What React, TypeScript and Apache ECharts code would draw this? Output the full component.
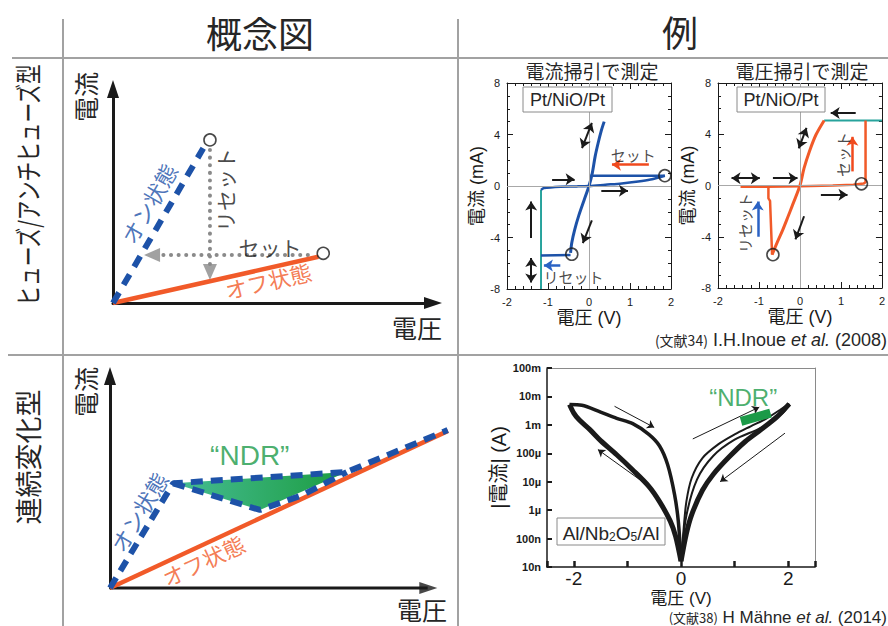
import React, { useEffect, useRef } from 'react';
import * as echarts from 'echarts';

const JP = '"Noto Sans CJK JP", sans-serif';
const LAT = '"Liberation Sans", "Noto Sans CJK JP", sans-serif';

// ---------- concept: fuse / antifuse (arbitrary units) ----------
const fuseOn = [[0, 0], [2.82, 7.23]];
const fuseOff = [[0, 0], [6.42, 2.16]];
const fuseEnds = [[3.03, 7.62], [6.57, 2.32]];
const fuseReset = [[3.03, 7.15], [3.03, 1.78]];
const fuseSet = [[6.09, 2.24], [1.47, 2.24]];
const fuseHeads = [[3.03, 1.45, 180], [1.22, 2.24, 90]];

// ---------- concept: continuous change ----------
const contAxisX = [[0, 0], [10.0, 0]];
const contAxisHead = [[10.02, 0, -90]];
const contOff = [[0, 0], [10.64, 7.41]];
const contOnUpper = [[0, 0], [1.99, 4.94], [7.45, 5.47], [10.63, 7.45]];
const contOnLower = [[1.99, 4.94], [4.72, 3.68], [6.07, 4.39], [7.45, 5.47]];
const ndrRegion = [[1.99, 4.94], [7.45, 5.47], [4.72, 3.68]];

// ---------- current sweep (V, mA) ----------
const iSweepOn = [[-0.45, -5.2], [-0.42, -4.4], [-0.35, -3.4], [-0.25, -2.3], [-0.12, -1.1], [0, 0], [0.08, 1.0], [0.15, 2.3], [0.22, 3.3], [0.3, 4.3], [0.37, 5.0]];
const iSweepOff = [[-1.17, -0.3], [-1.1, -0.16], [-0.7, -0.05], [-0.3, -0.03], [0, 0], [0.4, 0.1], [0.8, 0.2], [1.2, 0.35], [1.5, 0.5], [1.75, 0.7], [1.85, 0.8]];
const iSweepSet = [[0.03, 0.8], [1.85, 0.8]];
const iSweepReset = [[-1.17, -5.4], [-0.45, -5.35]];
const iSweepCompliance = [[-1.17, -0.3], [-1.17, -8]];
const iSweepMarks = [[1.85, 0.8], [-0.42, -5.3]];
const iSweepArrows = [[[-0.9, 0.52], [-0.35, 0.52]], [[0.3, -0.36], [0.95, -0.36]], [[0.07, -2.67], [-0.15, -4.43]], [[-1.41, -4.04], [-1.41, -1.2]]];
const iSweepDouble = [[[-0.17, 2.95], [0.07, 4.9]], [[-1.41, -5.6], [-1.41, -7.5]]];
const iSweepSetArrow = [[[1.46, 1.66], [0.56, 1.66]]];
const iSweepResetArrow = [[[-0.7, -6.17], [-1.1, -6.17]]];

// ---------- voltage sweep (V, mA) ----------
const vSweepOn = [[-0.68, -5.4], [-0.55, -4.4], [-0.42, -3.46], [-0.3, -2.5], [-0.18, -1.51], [0, 0], [0.1, 1.35], [0.23, 2.66], [0.39, 3.96], [0.59, 5.08]];
const vSweepOff = [[-1.45, -0.1], [-0.8, -0.1], [0, -0.05], [0.8, 0], [1.3, 0.05], [1.55, 0.15], [1.6, 0.25], [1.6, 5.07]];
const vSweepCompliance = [[0.59, 5.07], [2, 5.07]];
const vSweepReset = [[-0.77, -0.1], [-0.77, -1.0], [-0.73, -1.2], [-0.68, -5.4]];
const vSweepMarks = [[-0.66, -5.4], [1.5, 0.13]];
const vSweepArrows = [[[-0.66, 0.57], [-0.06, 0.57]], [[0.51, -0.73], [1.16, -0.73]], [[0.1, -2.4], [-0.11, -4.2]], [[1.36, 5.65], [0.75, 5.65]]];
const vSweepDouble = [[[-1.67, 0.57], [-0.98, 0.57]], [[-0.03, 2.9], [0.16, 4.5]], [[1.8, 5.65], [2.3, 5.65]]];
const vSweepSetArrow = [[[1.28, 1.1], [1.28, 3.8]]];
const vSweepResetArrow = [[[-1.03, -4.0], [-1.03, -1.25]]];

// ---------- Al/Nb2O5/Al (V, |I| in A) ----------
const nbLeftUpper = [[-2.08, 5.2e-3], [-1.85, 4.9e-3], [-1.5, 2.8e-3], [-1.2, 1.7e-3], [-0.9, 1.1e-3], [-0.6, 4.6e-4], [-0.4, 1.8e-4], [-0.25, 4e-5], [-0.12, 3.5e-6], [-0.05, 4e-7], [0, 1.6e-8]];
const nbLeftLower = [[-2.08, 5.2e-3], [-2.0, 2.6e-3], [-1.9, 1.5e-3], [-1.7, 6.8e-4], [-1.5, 2.8e-4], [-1.2, 8.9e-5], [-0.9, 2.6e-5], [-0.6, 6.9e-6], [-0.4, 2.0e-6], [-0.2, 4.1e-7], [-0.1, 1.2e-7], [0, 1.6e-8]];
const nbRightUpper = [[0, 1.6e-8], [0.05, 2.3e-7], [0.1, 2.0e-6], [0.2, 1.35e-5], [0.4, 6.8e-5], [0.7, 2.1e-4], [1.0, 4.6e-4], [1.3, 8.9e-4], [1.6, 1.7e-3], [1.85, 3.4e-3], [2.02, 5.5e-3]];
const nbRightMid = [[0, 1.6e-8], [0.1, 6.3e-7], [0.3, 1.2e-5], [0.6, 8e-5], [1.0, 3e-4], [1.5, 8e-4], [1.9, 2.6e-3], [2.02, 5.5e-3]];
const nbRightLower = [[2.02, 5.5e-3], [1.8, 2.0e-3], [1.5, 7e-4], [1.2, 2.6e-4], [0.9, 7.5e-5], [0.6, 1.8e-5], [0.4, 5e-6], [0.2, 7e-7], [0.1, 1.5e-7], [0, 1.6e-8]];
const nbNdr = [[1.12, 1.33e-3], [1.67, 2.6e-3]];
const nbArrows = [[[-1.24, 4.5e-3], [-0.5, 8.1e-4]], [[-0.62, 7.4e-6], [-1.55, 1.35e-4]], [[0.22, 3.2e-4], [1.46, 4.2e-3]], [[1.94, 5.1e-4], [0.73, 1.0e-5]]];
const nbTickLabels = ['10n', '100n', '1µ', '10µ', '100µ', '1m', '10m', '100m'];
const nbXLabels = [-2, 0, 2];

const BLUE = '#1d52a8';
const ORANGE = '#f15a29';
const TEAL = '#27a39c';
const GREEN = '#1c9a48';
const INK = '#1a1a1a';
const RULE = '#a2a2a2';

function lineS(xi: number, yi: number, data: any, color: string, width: number, extra: any = {}) {
  return {
    type: 'line', xAxisIndex: xi, yAxisIndex: yi, data, symbol: 'none', showSymbol: false,
    clip: false, silent: true, z: extra.z ?? 3, smooth: extra.smooth ?? false,
    lineStyle: { color, width, ...(extra.lineStyle || {}) },
  };
}

function arrowS(xi: number, yi: number, segs: any[], color: string, width: number, both: boolean, size = 9) {
  return {
    type: 'line', xAxisIndex: xi, yAxisIndex: yi, data: [], clip: false, silent: true, z: 4,
    markLine: {
      silent: true, animation: false, symbol: both ? ['arrow', 'arrow'] : ['none', 'arrow'], symbolSize: size,
      lineStyle: { color, width, type: 'solid' }, label: { show: false }, emphasis: { disabled: true },
      data: segs.map((s) => [{ coord: s[0] }, { coord: s[1] }]),
    },
  };
}

function circleS(xi: number, yi: number, data: any) {
  return {
    type: 'scatter', xAxisIndex: xi, yAxisIndex: yi, data, symbol: 'circle', symbolSize: 12, clip: false, silent: true, z: 5,
    itemStyle: { color: 'rgba(255,255,255,0)', borderColor: INK, borderWidth: 1.6 },
  };
}

function headS(xi: number, yi: number, data: number[][], color: string, size: number[]) {
  return {
    type: 'scatter', xAxisIndex: xi, yAxisIndex: yi, symbol: 'triangle', symbolSize: size, silent: true, clip: false, z: 4,
    itemStyle: { color },
    data: data.map((h) => ({ value: [h[0], h[1]], symbolRotate: h[2] })),
  };
}

function textS(xi: number, yi: number, items: any[]) {
  return {
    type: 'scatter', xAxisIndex: xi, yAxisIndex: yi, symbolSize: 1, clip: false, silent: true, z: 6,
    itemStyle: { color: 'rgba(0,0,0,0)' },
    data: items.map((t) => ({
      value: t.at,
      label: {
        show: true, position: 'inside', formatter: t.text, rotate: t.rotate || 0, color: t.color || INK,
        fontSize: t.size, fontFamily: t.font || JP,
      },
    })),
  };
}

function conceptAxis(gi: number, max: number, showLine = true) {
  return {
    type: 'value', gridIndex: gi, min: 0, max,
    axisLine: { show: showLine, onZero: false, symbol: ['none', 'triangle'], symbolSize: [12, 18], lineStyle: { color: INK, width: 3 } },
    axisTick: { show: false }, axisLabel: { show: false }, splitLine: { show: false },
  };
}

function frameAxis(gi: number, position: string, min: number, max: number, interval: number, minor: number, labels: boolean, name?: string, nameGap?: number, nameSize = 17) {
  return {
    type: 'value', gridIndex: gi, position, min, max, interval,
    axisLine: { show: true, onZero: false, lineStyle: { color: INK, width: 1 } },
    axisTick: { show: true, inside: true, length: 6, lineStyle: { color: INK, width: 1 } },
    minorTick: { show: true, splitNumber: minor, length: 3, lineStyle: { color: INK, width: 1 } },
    axisLabel: { show: labels, fontSize: 11, color: INK, margin: 7, fontFamily: LAT },
    splitLine: { show: false },
    name, nameLocation: 'middle', nameGap, nameTextStyle: { fontSize: nameSize, color: INK, fontFamily: LAT },
  };
}

function gText(text: string, x: number, y: number, fontSize: number, rotation = 0, style: any = {}, el: any = {}) {
  return {
    type: 'text', x, y, rotation, silent: true, z: 10, ...el,
    style: { text, fontSize, fontFamily: JP, fill: '#262626', align: 'center', verticalAlign: 'middle', ...style },
  };
}

function gLine(x1: number, y1: number, x2: number, y2: number) {
  return { type: 'line', silent: true, shape: { x1, y1, x2, y2 }, style: { stroke: RULE, lineWidth: 2 } };
}

function gBox(x: number, y: number, w: number, h: number) {
  return { type: 'rect', silent: true, z: 9, shape: { x, y, width: w, height: h }, style: { fill: '#fff', stroke: '#8a8a8a', lineWidth: 1 } };
}

function buildOption() {
  const zeroLines = (xi: number, yi: number) => ({
    type: 'line', xAxisIndex: xi, yAxisIndex: yi, data: [], silent: true, z: 1,
    markLine: { silent: true, animation: false, symbol: ['none', 'none'], label: { show: false }, lineStyle: { color: '#a8a8a8', width: 1, type: 'solid' }, data: [{ xAxis: 0 }, { yAxis: 0 }] },
  });

  return {
    animation: false,
    backgroundColor: '#fff',
    grid: [
      { left: 113, top: 89, width: 320, height: 214 },
      { left: 110, top: 376, width: 338, height: 212 },
      { left: 507, top: 83, width: 164, height: 206 },
      { left: 718, top: 83, width: 165, height: 205 },
      { left: 547, top: 368, width: 268, height: 199 },
    ],
    xAxis: [
      conceptAxis(0, 10),
      conceptAxis(1, 10.64, false),
      frameAxis(2, 'bottom', -2, 2, 1, 5, true, '電圧 (V)', 20, 18),
      frameAxis(2, 'top', -2, 2, 1, 5, false),
      frameAxis(3, 'bottom', -2, 2, 1, 5, true, '電圧 (V)', 20, 18),
      frameAxis(3, 'top', -2, 2, 1, 5, false),
      {
        type: 'value', gridIndex: 4, position: 'bottom', min: -2.5, max: 2.5,
        axisLine: { show: true, onZero: false, lineStyle: { color: INK, width: 1.5 } },
        axisTick: { show: true, inside: true, length: 6, lineStyle: { color: INK, width: 2.5 } },
        axisLabel: { fontSize: 19, color: INK, margin: 2, fontFamily: LAT, formatter: (v: number) => (nbXLabels.indexOf(v) >= 0 ? String(v) : '') },
        splitLine: { show: false },
        name: '電圧 (V)', nameLocation: 'middle', nameGap: 23, nameMoveOverlap: false,
        nameTextStyle: { fontSize: 17, color: INK, fontFamily: LAT },
      },
      {
        type: 'value', gridIndex: 4, position: 'top', min: -2.5, max: 2.5,
        axisLine: { show: true, onZero: false, lineStyle: { color: '#8a8a8a', width: 1 } },
        axisTick: { show: false }, axisLabel: { show: false }, splitLine: { show: false },
      },
    ],
    yAxis: [
      conceptAxis(0, 10),
      conceptAxis(1, 10),
      frameAxis(2, 'left', -8, 8, 4, 4, true, '電流 (mA)', 15, 18),
      frameAxis(2, 'right', -8, 8, 4, 4, false),
      frameAxis(3, 'left', -8, 8, 4, 4, true, '電流 (mA)', 16, 18),
      frameAxis(3, 'right', -8, 8, 4, 4, false),
      {
        type: 'log', logBase: 10, gridIndex: 4, position: 'left', min: 1e-8, max: 0.1,
        axisLine: { show: true, onZero: false, lineStyle: { color: INK, width: 1.5 } },
        axisTick: { show: true, inside: true, length: 5, lineStyle: { color: INK, width: 2 } },
        axisLabel: {
          fontSize: 11, fontWeight: 'bold', color: INK, margin: 6, fontFamily: LAT,
          formatter: (v: number) => nbTickLabels[Math.round(Math.log10(v)) + 8] ?? '',
        },
        splitLine: { show: false },
        name: '|電流| (A)', nameLocation: 'middle', nameGap: 34, nameTextStyle: { fontSize: 20, color: INK, fontFamily: LAT },
      },
      {
        type: 'log', logBase: 10, gridIndex: 4, position: 'right', min: 1e-8, max: 0.1,
        axisLine: { show: true, onZero: false, lineStyle: { color: '#8a8a8a', width: 1 } },
        axisTick: { show: false }, axisLabel: { show: false }, splitLine: { show: false },
      },
    ],
    series: [
      // ---- concept fuse ----
      lineS(0, 0, fuseReset, '#8a8a8a', 4, { lineStyle: { type: [0.1, 7.5], cap: 'round' } }),
      lineS(0, 0, fuseSet, '#8a8a8a', 4, { lineStyle: { type: [0.1, 7.5], cap: 'round' } }),
      headS(0, 0, fuseHeads, '#8a8a8a', [14, 16]),
      lineS(0, 0, fuseOff, ORANGE, 4.5),
      lineS(0, 0, fuseOn, BLUE, 6, { lineStyle: { type: [12, 9] } }),
      circleS(0, 0, fuseEnds),
      textS(0, 0, [
        { text: 'オン状態', at: [1.1, 4.66], rotate: 60, color: BLUE, size: 22 },
        { text: 'リセット', at: [3.5, 5.28], rotate: 90, size: 21 },
        { text: 'セット', at: [4.91, 2.63], size: 21 },
        { text: 'オフ状態', at: [4.85, 1.07], rotate: 13, color: ORANGE, size: 22 },
      ]),
      // ---- concept continuous ----
      lineS(1, 1, contAxisX, INK, 3, { z: 2 }),
      headS(1, 1, contAxisHead, INK, [12, 18]),
      {
        type: 'custom', xAxisIndex: 1, yAxisIndex: 1, data: [[0, 0]], silent: true, clip: false, z: 2,
        renderItem: (_p: any, api: any) => ({
          type: 'polygon',
          shape: { points: ndrRegion.map((p) => api.coord(p)) },
          style: {
            fill: new echarts.graphic.LinearGradient(0, 0, 1, 0, [
              { offset: 0, color: '#46bd95' },
              { offset: 1, color: '#1c9c40' },
            ]),
          },
        }),
      },
      lineS(1, 1, contOff, ORANGE, 4.5),
      lineS(1, 1, contOnUpper, BLUE, 6, { lineStyle: { type: [12, 8] }, z: 4 }),
      lineS(1, 1, contOnLower, BLUE, 6, { lineStyle: { type: [12, 8] }, z: 4 }),
      textS(1, 1, [
        { text: '“NDR”', at: [4.4, 6.27], color: GREEN, size: 28, font: LAT },
        { text: 'オン状態', at: [0.89, 3.6], rotate: 59, color: BLUE, size: 22 },
        { text: 'オフ状態', at: [2.93, 1.32], rotate: 25, color: ORANGE, size: 22 },
      ]),
      // ---- current sweep ----
      zeroLines(2, 2),
      lineS(2, 2, iSweepCompliance, TEAL, 2),
      lineS(2, 2, iSweepOff, BLUE, 2.5, { smooth: 0.3 }),
      lineS(2, 2, iSweepSet, BLUE, 2.5),
      lineS(2, 2, iSweepReset, BLUE, 2.5),
      lineS(2, 2, iSweepOn, BLUE, 3, { smooth: 0.3 }),
      arrowS(2, 2, iSweepArrows, INK, 2, false),
      arrowS(2, 2, iSweepDouble, INK, 2, true),
      arrowS(2, 2, iSweepSetArrow, '#f04a1e', 2.5, false),
      arrowS(2, 2, iSweepResetArrow, '#2a62c4', 2.5, false),
      circleS(2, 2, iSweepMarks),
      textS(2, 2, [
        { text: 'セット', at: [1.08, 2.41], size: 15 },
        { text: 'リセット', at: [-0.38, -7.04], size: 15 },
      ]),
      // ---- voltage sweep ----
      zeroLines(4, 4),
      lineS(4, 4, vSweepCompliance, TEAL, 2),
      lineS(4, 4, vSweepOff, ORANGE, 2.5),
      lineS(4, 4, vSweepReset, ORANGE, 2.5),
      lineS(4, 4, vSweepOn, ORANGE, 3, { smooth: 0.3 }),
      arrowS(4, 4, vSweepArrows, INK, 2, false),
      arrowS(4, 4, vSweepDouble, INK, 2, true),
      arrowS(4, 4, vSweepSetArrow, '#f04a1e', 2.5, false),
      arrowS(4, 4, vSweepResetArrow, '#2a62c4', 2.5, false),
      circleS(4, 4, vSweepMarks),
      textS(4, 4, [
        { text: 'セット', at: [1.04, 2.41], rotate: 90, size: 15 },
        { text: 'リセット', at: [-1.35, -2.93], rotate: 90, size: 15 },
      ]),
      // ---- Nb2O5 log plot ----
      lineS(6, 6, nbLeftUpper, INK, 3.5, { smooth: 0.3 }),
      lineS(6, 6, nbLeftLower, INK, 5, { smooth: 0.3 }),
      lineS(6, 6, nbRightUpper, INK, 2, { smooth: 0.3 }),
      lineS(6, 6, nbRightMid, INK, 2, { smooth: 0.3 }),
      lineS(6, 6, nbRightLower, INK, 5, { smooth: 0.3 }),
      lineS(6, 6, nbNdr, GREEN, 9, { z: 5 }),
      arrowS(6, 6, nbArrows, INK, 1, false, 7),
      textS(6, 6, [{ text: '“NDR”', at: [1.16, 9.5e-3], color: GREEN, size: 24, font: LAT }]),
    ],
    graphic: [
      gLine(12, 58, 888, 58),
      gLine(8, 355, 888, 355),
      gLine(63, 19, 63, 626),
      gLine(458, 19, 458, 626),
      gText('概念図', 260, 32, 36),
      gText('例', 680, 31, 36),
      gText('ヒューズ/アンチヒューズ型', 28, 185, 27, Math.PI / 2, {}, { scaleX: 0.73 }),
      gText('連続変化型', 27, 457, 27, Math.PI / 2),
      gText('電流', 85, 97, 25, Math.PI / 2),
      gText('電圧', 417, 327, 25),
      gText('電流', 85, 392, 25, Math.PI / 2),
      gText('電圧', 422, 609, 25),
      gText('電流掃引で測定', 592, 70, 19),
      gText('電圧掃引で測定', 802, 70, 19),
      gBox(523, 87, 89, 25),
      gText('Pt/NiO/Pt', 567.5, 99.5, 18, 0, { fontFamily: LAT }),
      gBox(737, 87, 88, 25),
      gText('Pt/NiO/Pt', 781, 99.5, 18, 0, { fontFamily: LAT }),
      gBox(557, 518, 108, 27),
      gText('{n|Al/Nb}{s|2}{n|O}{s|5}{n|/Al}', 611, 531.5, 19, 0, {
        fontFamily: LAT,
        rich: {
          n: { fontSize: 19, fontFamily: LAT, lineHeight: 22, verticalAlign: 'bottom' },
          s: { fontSize: 12, fontFamily: LAT, lineHeight: 22, verticalAlign: 'bottom' },
        },
      }),
      gText('{a|(文献34)} I.H.Inoue {i|et al.} (2008)', 887, 340, 18, 0, {
        align: 'right', fontFamily: LAT,
        rich: { a: { fontSize: 14, fontFamily: JP }, i: { fontSize: 18, fontStyle: 'italic', fontFamily: LAT } },
      }),
      gText('{a|(文献38)} H Mähne {i|et al.} (2014)', 887, 617, 17, 0, {
        align: 'right', fontFamily: LAT,
        rich: { a: { fontSize: 13, fontFamily: JP }, i: { fontSize: 17, fontStyle: 'italic', fontFamily: LAT } },
      }),
    ],
  };
}

export default function App() {
  const ref = useRef<HTMLDivElement>(null);
  useEffect(() => {
    const chart = echarts.init(ref.current!, null, { renderer: 'svg' });
    chart.setOption(buildOption() as any);
    return () => chart.dispose();
  }, []);
  return <div ref={ref} style={{ position: 'fixed', left: 0, top: 0, width: 888, height: 626, background: '#fff' }} />;
}
